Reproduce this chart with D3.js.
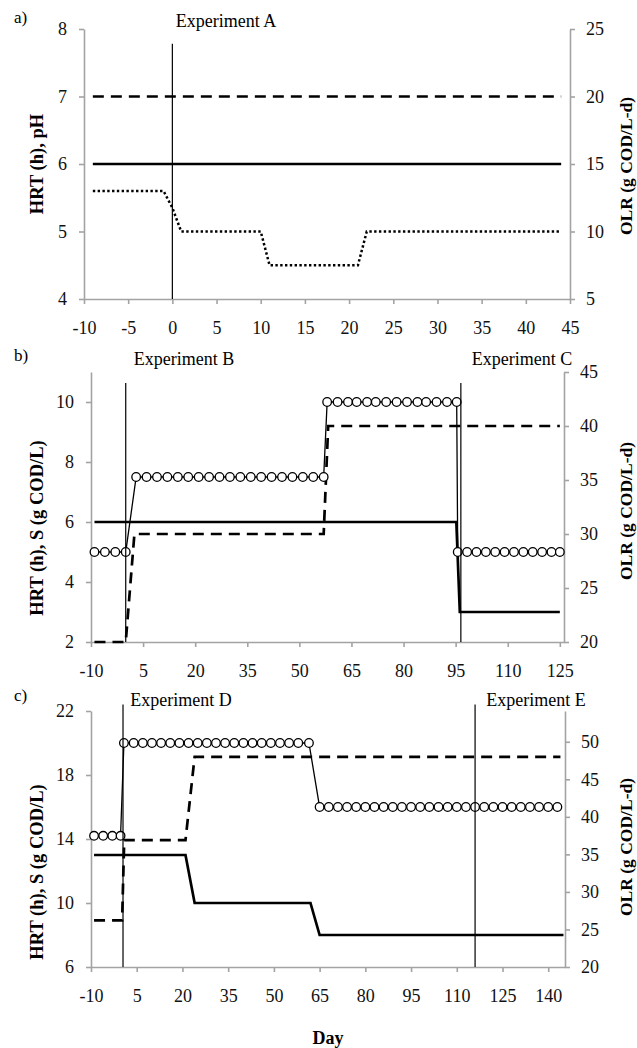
<!DOCTYPE html>
<html>
<head>
<meta charset="utf-8">
<script src="https://cdn.jsdelivr.net/npm/d3@7"></script>
<style>
  body { margin: 0; background: #fff; }
  svg  { display: block; font-family: "Liberation Serif", "Times New Roman", serif; }
</style>
</head>
<body>
<div id="container"></div>
<script>
// ---------- panel a ----------
const aXTicks     = [-10, -5, 0, 5, 10, 15, 20, 25, 30, 35, 40, 45];
const aLeftTicks  = [4, 5, 6, 7, 8];
const aRightTicks = [5, 10, 15, 20, 25];
const aHRTDays    = [-9, 44];
const aHRT        = [6, 6];
const aOLRDays    = [-9, 44];
const aOLR        = [20, 20];
const aPHDays     = [-9, -1, 0, 1, 10, 11, 21, 22, 44];
const aPH         = [5.6, 5.6, 5.35, 5.0, 5.0, 4.5, 4.5, 5.0, 5.0];
const aExpDays    = [0];
const aExpLabels  = ["Experiment A"];

// ---------- panel b ----------
const bXTicks     = [-10, 5, 20, 35, 50, 65, 80, 95, 110, 125];
const bLeftTicks  = [2, 4, 6, 8, 10];
const bRightTicks = [20, 25, 30, 35, 40, 45];
const bHRTDays    = [-9, 95.2, 96.2, 125];
const bHRT        = [6, 6, 3, 3];
const bOLRDays    = [-9, 0, 2.5, 57, 58.3, 125];
const bOLR        = [20, 20, 30, 30, 40, 40];
const bSDays      = [-9, -6, -3, 0,
                     3, 6, 9, 12, 15, 18, 21, 24, 27, 30, 33, 36, 39, 42, 45, 48, 51, 54, 57,
                     58, 61, 64, 66.5, 69.5, 72, 75, 78, 81, 84, 86.5, 89.5, 92.5, 95.3,
                     95.6, 98.3, 101, 103.7, 106.4, 109.1, 111.8, 114.5, 117.2, 119.9, 122.6, 125];
const bS          = [5, 5, 5, 5,
                     7.5, 7.5, 7.5, 7.5, 7.5, 7.5, 7.5, 7.5, 7.5, 7.5, 7.5, 7.5, 7.5, 7.5, 7.5, 7.5, 7.5, 7.5, 7.5,
                     10, 10, 10, 10, 10, 10, 10, 10, 10, 10, 10, 10, 10, 10,
                     5, 5, 5, 5, 5, 5, 5, 5, 5, 5, 5, 5];
const bExpDays    = [0, 96.5];
const bExpLabels  = ["Experiment B", "Experiment C"];

// ---------- panel c ----------
const cXTicks     = [-10, 5, 20, 35, 50, 65, 80, 95, 110, 125, 140];
const cLeftTicks  = [6, 10, 14, 18, 22];
const cRightTicks = [20, 25, 30, 35, 40, 45, 50];
const cHRTDays    = [-9, 21, 24, 62, 65, 145];
const cHRT        = [13, 13, 10, 10, 8, 8];
const cOLRDays    = [-9, 0.2, 0.9, 21, 24, 144];
const cOLR        = [26.2, 26.2, 36.9, 36.9, 48, 48];
const cSDays      = [-9, -6, -3, -0.3,
                     0.8, 4, 7, 10, 13, 16, 19, 22, 25, 28, 31, 34, 37, 40, 43, 46, 49, 52, 55, 58, 61.5,
                     65, 68, 71, 74, 77, 80, 83, 86, 89, 92, 95, 98, 101, 104, 107, 110, 113, 116, 119,
                     122, 125, 128, 131, 134, 137, 140, 143];
const cS          = [14.2, 14.2, 14.2, 14.2,
                     20, 20, 20, 20, 20, 20, 20, 20, 20, 20, 20, 20, 20, 20, 20, 20, 20, 20, 20, 20, 20,
                     16, 16, 16, 16, 16, 16, 16, 16, 16, 16, 16, 16, 16, 16, 16, 16, 16, 16, 16,
                     16, 16, 16, 16, 16, 16, 16, 16];
const cExpDays    = [0.5, 116];
const cExpLabels  = ["Experiment D", "Experiment E"];

const W = 637, H = 1048;
const axisColor = "#a3a3a3";
const serif = "'Liberation Serif', 'Times New Roman', serif";

const svg = d3.select("#container")
  .append("svg")
    .attr("width", W)
    .attr("height", H);

function zip(xs, ys) { return xs.map((d, i) => [d, ys[i]]); }

function panel(p) {
  const g = svg.append("g");

  const x  = d3.scaleLinear().domain(p.xDomain).range([p.left, p.right]);
  const yL = d3.scaleLinear().domain(p.leftDomain).range([p.bottom, p.top]);
  const yR = d3.scaleLinear().domain(p.rightDomain).range([p.bottom, p.top]);
  const fmt = d => String(d);

  // axes
  const ax = [
    g.append("g").attr("transform", `translate(0,${p.bottom})`)
      .call(d3.axisBottom(x).tickValues(p.xTicks).tickFormat(fmt)
        .tickSize(5).tickPadding(17).tickSizeOuter(0)),
    g.append("g").attr("transform", `translate(${p.left},0)`)
      .call(d3.axisLeft(yL).tickValues(p.leftTicks).tickFormat(fmt)
        .tickSize(5).tickPadding(12).tickSizeOuter(0)),
    g.append("g").attr("transform", `translate(${p.right},0)`)
      .call(d3.axisRight(yR).tickValues(p.rightTicks).tickFormat(fmt)
        .tickSize(5).tickPadding(11).tickSizeOuter(0))
  ];
  ax.forEach(a => {
    a.attr("font-family", null).attr("font-size", null);
    a.select(".domain").attr("stroke", axisColor).attr("stroke-width", 1.6);
    a.selectAll(".tick line").attr("stroke", axisColor).attr("stroke-width", 1.6);
    a.selectAll(".tick text")
      .attr("fill", "#111")
      .style("font-family", serif)
      .style("font-size", "18px");
  });

  const line = (ys) => d3.line().x(d => x(d[0])).y(d => ys(d[1]));

  // HRT solid
  g.append("path")
    .datum(zip(p.hrtDays, p.hrt))
    .attr("d", line(yL))
    .attr("fill", "none").attr("stroke", "#000").attr("stroke-width", 2.7);

  // OLR dashed
  g.append("path")
    .datum(zip(p.olrDays, p.olr))
    .attr("d", line(yR))
    .attr("fill", "none").attr("stroke", "#000").attr("stroke-width", 2.7)
    .attr("stroke-dasharray", "11,7");

  // pH dotted (panel a only)
  if (p.phDays) {
    g.append("path")
      .datum(zip(p.phDays, p.ph))
      .attr("d", line(yL))
      .attr("fill", "none").attr("stroke", "#000").attr("stroke-width", 2.5)
      .attr("stroke-dasharray", "2.4,2.4");
  }

  // S with circle markers
  if (p.sDays) {
    const pts = zip(p.sDays, p.s);
    g.append("path")
      .datum(pts)
      .attr("d", line(yL))
      .attr("fill", "none").attr("stroke", "#000").attr("stroke-width", 1.3);
    g.selectAll("circle.s")
      .data(pts)
      .join("circle")
        .attr("class", "s")
        .attr("cx", d => x(d[0]))
        .attr("cy", d => yL(d[1]))
        .attr("r", 4.3)
        .attr("fill", "#fff")
        .attr("stroke", "#000")
        .attr("stroke-width", 1.3);
  }

  // experiment start lines
  g.selectAll("line.exp")
    .data(p.expDays)
    .join("line")
      .attr("class", "exp")
      .attr("x1", d => x(d)).attr("x2", d => x(d))
      .attr("y1", yL(p.expTop)).attr("y2", yL(p.leftDomain[0]))
      .attr("stroke", "#000").attr("stroke-width", 1.2);

  // experiment labels
  g.selectAll("text.exp")
    .data(p.expLabels)
    .join("text")
      .attr("class", "exp")
      .attr("x", (d, i) => p.expLabelX[i])
      .attr("y", p.expLabelY)
      .attr("text-anchor", "middle")
      .attr("font-size", 18)
      .text(d => d);

  // panel letter
  g.append("text")
    .attr("x", 14).attr("y", p.letterY)
    .attr("font-size", 17)
    .text(p.letter);

  // axis titles
  g.append("text")
    .attr("transform", `translate(43,${p.leftTitleY}) rotate(-90)`)
    .attr("text-anchor", "middle")
    .attr("font-size", 18.5).attr("font-weight", "bold")
    .text(p.leftTitle);

  g.append("text")
    .attr("transform", `translate(632,${p.rightTitleY}) rotate(-90)`)
    .attr("text-anchor", "middle")
    .attr("font-size", 17.5).attr("font-weight", "bold")
    .text("OLR (g COD/L-d)");
}

panel({
  left: 84, right: 570, top: 29, bottom: 299,
  xDomain: [-10, 45], leftDomain: [4, 8], rightDomain: [5, 25],
  xTicks: aXTicks, leftTicks: aLeftTicks, rightTicks: aRightTicks,
  hrtDays: aHRTDays, hrt: aHRT, olrDays: aOLRDays, olr: aOLR,
  phDays: aPHDays, ph: aPH,
  expDays: aExpDays, expLabels: aExpLabels, expTop: 7.78,
  expLabelX: [226], expLabelY: 27,
  letter: "a)", letterY: 23,
  leftTitle: "HRT (h), pH", leftTitleY: 164, rightTitleY: 166
});

panel({
  left: 91, right: 564, top: 372, bottom: 642,
  xDomain: [-10, 126.2], leftDomain: [2, 11], rightDomain: [20, 45],
  xTicks: bXTicks, leftTicks: bLeftTicks, rightTicks: bRightTicks,
  hrtDays: bHRTDays, hrt: bHRT, olrDays: bOLRDays, olr: bOLR,
  sDays: bSDays, s: bS,
  expDays: bExpDays, expLabels: bExpLabels, expTop: 10.63,
  expLabelX: [184, 522], expLabelY: 365,
  letter: "b)", letterY: 361,
  leftTitle: "HRT (h), S (g COD/L)", leftTitleY: 528, rightTitleY: 511
});

panel({
  left: 91, right: 565, top: 711, bottom: 967,
  xDomain: [-10, 145.5], leftDomain: [6, 22], rightDomain: [20, 54.1],
  xTicks: cXTicks, leftTicks: cLeftTicks, rightTicks: cRightTicks,
  hrtDays: cHRTDays, hrt: cHRT, olrDays: cOLRDays, olr: cOLR,
  sDays: cSDays, s: cS,
  expDays: cExpDays, expLabels: cExpLabels, expTop: 22.4,
  expLabelX: [181, 536], expLabelY: 706,
  letter: "c)", letterY: 701,
  leftTitle: "HRT (h), S (g COD/L)", leftTitleY: 872, rightTitleY: 847
});

// shared x title
svg.append("text")
  .attr("x", 328).attr("y", 1044)
  .attr("text-anchor", "middle")
  .attr("font-size", 18).attr("font-weight", "bold")
  .text("Day");
</script>
</body>
</html>
